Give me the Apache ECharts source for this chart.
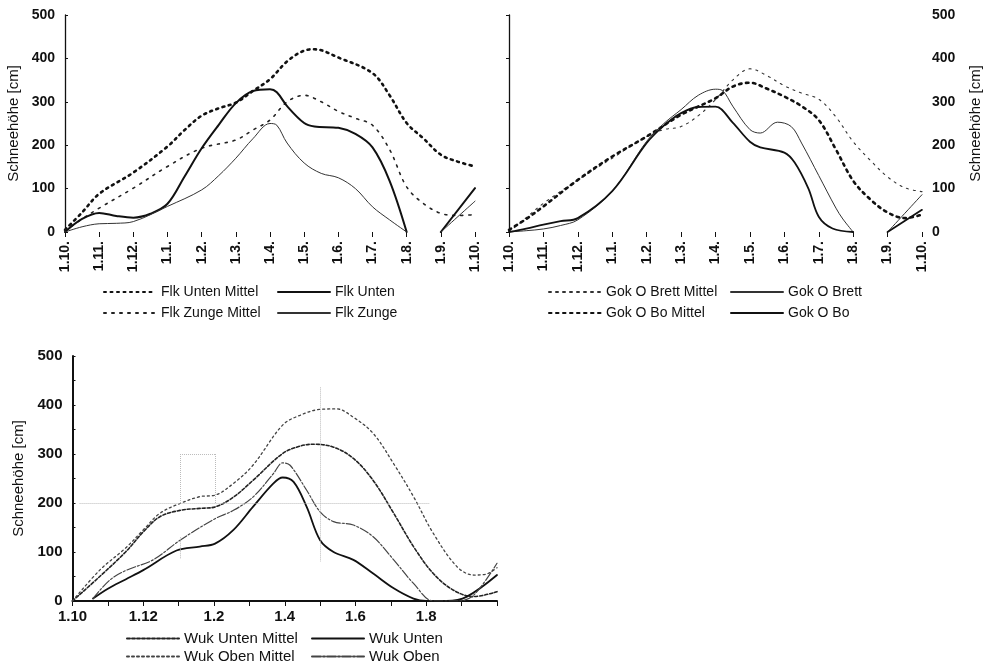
<!DOCTYPE html>
<html>
<head>
<meta charset="utf-8">
<script src="https://cdn.jsdelivr.net/npm/echarts@6/dist/echarts.min.js"></script>
<style>html,body{margin:0;padding:0;background:#fff}#c{width:985px;height:667px}</style>
</head>
<body>
<div id="c"></div>
<script>
// ---- tick labels ----
const yTicks = [0, 100, 200, 300, 400, 500];
const topMonthLabels = ['1.10.','1.11.','1.12.','1.1.','1.2.','1.3.','1.4.','1.5.','1.6.','1.7.','1.8.','1.9.','1.10.'];
const bottomMonthLabels = ['1.10','','1.12','','1.2','','1.4','','1.6','','1.8','',''];
const yName = 'Schneehöhe [cm]';

// ---- chart 1 (Flk): [month since 1.10, snow depth cm] ----
const flkUntenMittel = [[0,5],[0.5,45],[1,88],[2,137],[3,197],[3.5,235],[4,268],[4.5,285],[5,298],[5.5,325],[6,352],[6.5,393],[7,418],[7.3,421],[8,402],[9,366],[9.5,315],[10,251],[10.5,215],[11,178],[11.5,162],[12,151]];
const flkZungeMittel = [[0,3],[0.5,30],[1,55],[2,101],[3,151],[4,193],[5,212],[5.5,235],[6,258],[6.5,300],[7,315],[7.5,300],[8,278],[8.5,262],[9,246],[9.5,190],[10,104],[10.5,65],[11,43],[11.5,38],[12,40]];
const flkUnten = [[0,0],[0.5,30],[1,44],[1.5,37],[2,33],[2.5,42],[3,65],[3.5,128],[4,193],[4.5,247],[5,297],[5.5,325],[6,329],[6.2,322],[6.5,290],[7,251],[7.3,243],[8,240],[8.5,226],[9,195],[9.5,118],[10,0],[10.5,'-'],[11,0],[12,101]];
const flkZunge = [[0,0],[0.5,12],[1,19],[1.5,20],[2,24],[3,59],[4,97],[4.5,130],[5,170],[5.5,215],[6,250],[6.2,246],[6.5,205],[7,159],[7.5,135],[8,125],[8.5,100],[9,58],[9.5,28],[10,0],[10.5,'-'],[11,0],[12,71]];

// ---- chart 2 (Gok) ----
const gokBrettMittel = [[0,0],[0.5,33],[1,66],[2,120],[3,170],[4,220],[4.5,236],[5,243],[5.5,268],[6,305],[6.5,350],[7,376],[7.5,360],[8,337],[8.5,320],[9,306],[9.5,265],[10,208],[10.5,165],[11,127],[11.5,102],[12,93]];
const gokBoMittel = [[0,5],[0.5,30],[1,59],[2,120],[3,174],[4,220],[5,270],[6,308],[6.5,335],[7,344],[7.5,330],[8,312],[8.5,290],[9,258],[9.5,190],[10,118],[10.5,75],[11,45],[11.5,32],[12,40]];
const gokBrett = [[0,0],[0.5,3],[1,7],[1.5,15],[2,28],[3,94],[4,209],[4.5,250],[5,282],[5.5,315],[6,329],[6.2,326],[6.5,290],[7,236],[7.3,228],[7.8,253],[8.2,243],[8.5,205],[9,130],[9.5,55],[9.7,30],[10,0],[10.5,'-'],[11,0],[12,86]];
const gokBo = [[0,0],[0.5,8],[1,17],[1.5,25],[2,32],[3,94],[4,205],[4.5,245],[5,274],[5.5,288],[6,289],[6.5,252],[7,208],[7.3,195],[8,183],[8.3,160],[8.7,100],[9,35],[9.4,8],[10,0],[10.5,'-'],[11,0],[12,51]];

// ---- chart 3 (Wuk) ----
const wukUntenMittel = [[0,0],[0.77,50],[1.5,100],[2,141],[2.47,172],[3.04,185],[3.6,189],[4.03,192],[4.55,212],[5.1,246],[5.94,301],[6.43,316],[6.8,320],[7.38,314],[7.94,291],[8.5,246],[9.08,179],[9.64,111],[10.2,56],[10.77,22],[11.34,9],[12,19]];
const wukObenMittel = [[0,0],[0.77,63],[1.5,108],[2,145],[2.47,179],[3.04,199],[3.6,213],[4.03,216],[4.55,240],[5.1,277],[5.94,359],[6.43,379],[7,391],[7.47,392],[7.94,375],[8.5,342],[9.08,280],[9.64,213],[10.2,138],[10.87,70],[11.34,53],[11.7,55],[12,68]];
const wukUnten = [[0.58,5],[1,25],[1.5,44],[2,63],[2.94,103],[3.6,111],[4.03,117],[4.55,145],[5.1,192],[5.68,240],[5.94,252],[6.25,243],[6.62,192],[7,124],[7.38,100],[7.94,84],[8.5,56],[9.08,26],[9.64,5],[10,0],[10.58,0],[11.15,9],[12,53]];
const wukOben = [[0.58,5],[1.06,43],[1.53,63],[2.28,84],[3.04,124],[4.03,168],[4.55,185],[5.1,212],[5.68,260],[5.94,282],[6.15,277],[6.62,226],[7,182],[7.38,162],[7.94,155],[8.5,131],[9.08,84],[9.64,36],[10.2,0],[10.9,0],[11.34,12],[12,77]];
// faint dotted guide remnants in chart 3: [[x1,y1],[x2,y2]]
const wukGuides = [[[0.2,200],[10.1,200]],[[7,436],[7,80]],[[3.04,300],[3.04,200]],[[4.03,300],[4.03,200]],[[3.04,300],[4.03,300]],[[3.04,130],[3.04,85]]];

const FONT = 'Liberation Sans, Arial, sans-serif';
const ink = '#111';

function yAxisCfg(grid, pos, fs, gap) {
  return {
    gridIndex: grid, type: 'value', position: pos, min: 0, max: 500, interval: 100,
    name: yName, nameLocation: 'middle', nameGap: gap, nameRotate: 90,
    nameTextStyle: {fontFamily: FONT, fontSize: 15, color: ink},
    axisLine: {show: true, lineStyle: {color: ink, width: grid === 2 ? 2 : 1.3}},
    axisTick: {show: true, inside: true, length: 3, lineStyle: {color: ink}},
    minorTick: {show: grid === 2, splitNumber: 2, length: 3, lineStyle: {color: ink}},
    axisLabel: {fontFamily: FONT, fontSize: fs, fontWeight: 'bold', color: ink, margin: 10,
      formatter: v => yTicks.includes(v) ? String(v) : ''},
    splitLine: {show: false}
  };
}
function topX(grid) {
  return {
    gridIndex: grid, type: 'value', min: 0, max: 12, interval: 1,
    axisLine: {show: false},
    axisTick: {show: true, length: 5, lineStyle: {color: ink, width: 1}},
    axisLabel: {rotate: 90, fontFamily: FONT, fontSize: 14, fontWeight: 'bold', color: ink, margin: 9,
      formatter: v => topMonthLabels[Math.round(v)]},
    splitLine: {show: false}
  };
}
function line(name, data, xi, width, type, color, extra) {
  return Object.assign({
    name, type: 'line', data, xAxisIndex: xi, yAxisIndex: xi, smooth: 0.35,
    symbol: 'none', connectNulls: false, silent: true,
    lineStyle: {width, type, color, cap: 'round'}, itemStyle: {color}
  }, extra || {});
}
function leg(name, left, top, fs) {
  return {data: [name], left, top, padding: 0, itemWidth: 52, itemHeight: 12, selectedMode: false,
    itemStyle: {opacity: 0, borderWidth: 0},
    textStyle: {fontFamily: FONT, fontSize: fs, color: ink}};
}

const option = {
  animation: false,
  grid: [
    {left: 65, top: 15, width: 410, height: 217},
    {left: 509, top: 15, width: 413, height: 217},
    {left: 72.5, top: 356, width: 424.5, height: 245}
  ],
  xAxis: [
    topX(0), topX(1),
    {gridIndex: 2, type: 'value', min: 0, max: 12, interval: 1,
      axisLine: {show: true, lineStyle: {color: ink, width: 2}},
      axisTick: {show: true, length: 5, lineStyle: {color: ink}},
      axisLabel: {fontFamily: FONT, fontSize: 15, fontWeight: 'bold', color: ink, margin: 8,
        formatter: v => bottomMonthLabels[Math.round(v)]},
      splitLine: {show: false}}
  ],
  yAxis: [yAxisCfg(0, 'left', 14, 44), yAxisCfg(1, 'right', 14, 46), yAxisCfg(2, 'left', 15, 46)],
  legend: [
    leg('Flk Unten Mittel', 103, 285, 14), leg('Flk Unten', 277, 285, 14),
    leg('Flk Zunge Mittel', 103, 306, 14), leg('Flk Zunge', 277, 306, 14),
    leg('Gok O Brett Mittel', 548, 285, 14), leg('Gok O Brett', 730, 285, 14),
    leg('Gok O Bo Mittel', 548, 306, 14), leg('Gok O Bo', 730, 306, 14),
    leg('Wuk Unten Mittel', 126, 631, 15), leg('Wuk Unten', 311, 631, 15),
    leg('Wuk Oben Mittel', 126, 649, 15), leg('Wuk Oben', 311, 649, 15)
  ],
  series: [
    line('Flk Unten Mittel', flkUntenMittel, 0, 2.6, [2, 4.5], ink),
    line('Flk Zunge Mittel', flkZungeMittel, 0, 1.6, [2, 6], '#222'),
    line('Flk Unten', flkUnten, 0, 2, 'solid', ink),
    line('Flk Zunge', flkZunge, 0, 1, 'solid', '#333'),

    line('Gok O Brett Mittel', gokBrettMittel, 1, 1.1, [2, 5], '#333'),
    line('Gok O Bo Mittel', gokBoMittel, 1, 2.6, [2.5, 4.5], ink),
    line('Gok O Brett', gokBrett, 1, 1, 'solid', '#333'),
    line('Gok O Bo', gokBo, 1, 1.8, 'solid', ink),

    line('Wuk Unten Mittel', wukUntenMittel, 2, 1.6, [3, 2], '#222'),
    line('Wuk Oben Mittel', wukObenMittel, 2, 1.3, [2, 3], '#444'),
    line('Wuk Unten', wukUnten, 2, 1.8, 'solid', ink),
    line('Wuk Oben', wukOben, 2, 1.2, [9, 2, 2, 2], '#444', {
      markLine: {silent: true, symbol: 'none', label: {show: false},
        lineStyle: {type: 'dotted', color: '#bbb', width: 1},
        data: wukGuides.map(g => [{coord: g[0]}, {coord: g[1]}])}
    })
  ]
};
echarts.init(document.getElementById('c'), null, {renderer: 'canvas'}).setOption(option);
</script>
</body>
</html>
